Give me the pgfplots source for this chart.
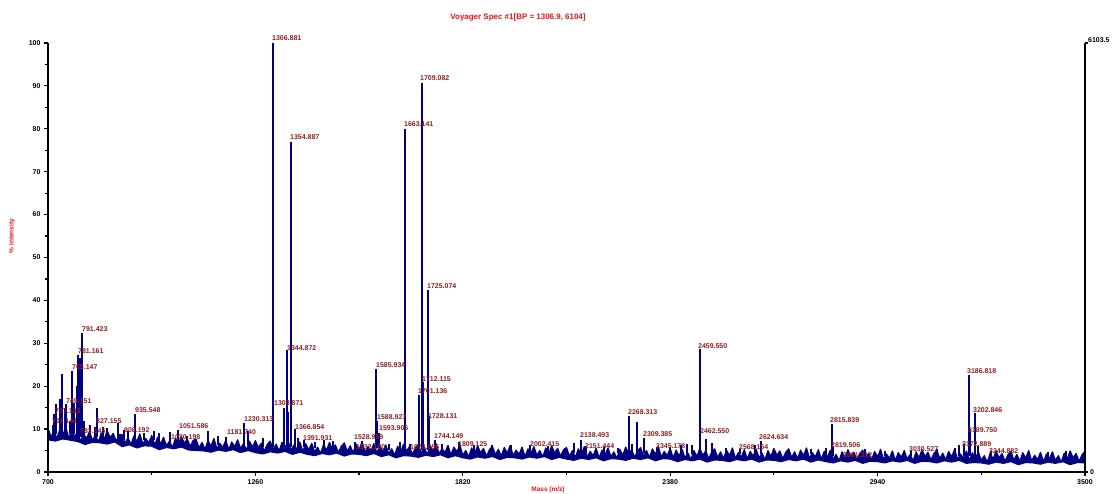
\documentclass[border=0pt]{standalone}
\usepackage{fontspec}
\setmainfont{Liberation Sans}
\usepackage{pgfplots}
\usepackage{pgfplotstable}
\pgfplotsset{compat=1.18}
\definecolor{navyline}{RGB}{0,0,128}
\definecolor{lblred}{RGB}{150,28,28}
\definecolor{ttlred}{RGB}{240,20,20}
\tikzset{lbl/.style={anchor=west, inner sep=0pt, text=lblred, font=\fontsize{7}{8}\selectfont\bfseries}}

\pgfplotstableread[row sep=\\]{
x y\\
700 10.2\\ 708 8.2\\ 716 9.5\\ 724 7.9\\ 732 9.9\\ 740 8.6\\ 748 10.4\\ 756 8.0\\ 764 9.3\\ 772 8.3\\
780 9.3\\ 788 7.1\\ 796 8.9\\ 804 7.8\\ 812 9.4\\ 820 7.4\\ 828 8.5\\ 836 7.0\\ 844 9.1\\ 852 7.7\\ 860 9.6\\ 868 8.0\\ 876 9.0\\ 884 7.2\\ 892 8.7\\
900 8.7\\ 908 6.7\\ 916 8.0\\ 924 6.4\\ 932 8.4\\ 940 7.1\\ 948 8.9\\ 956 6.5\\ 964 7.8\\ 972 6.8\\ 980 8.5\\ 988 6.3\\ 996 8.1\\
1004 6.5\\ 1012 8.1\\ 1020 6.1\\ 1028 7.2\\ 1036 5.7\\ 1044 7.8\\ 1052 6.4\\ 1060 8.3\\ 1068 6.7\\ 1076 7.7\\ 1084 5.9\\ 1092 7.4\\
1100 7.6\\ 1108 5.6\\ 1116 6.9\\ 1124 5.3\\ 1132 7.3\\ 1140 6.0\\ 1148 7.8\\ 1156 5.4\\ 1164 6.7\\ 1172 5.7\\ 1180 7.4\\ 1188 5.2\\ 1196 7.0\\ 1204 5.9\\ 1212 7.5\\ 1220 5.5\\ 1228 6.6\\ 1236 5.1\\ 1244 7.2\\ 1252 5.8\\
1260 7.3\\ 1268 5.7\\ 1276 6.7\\ 1284 4.9\\ 1292 6.4\\ 1300 7.2\\ 1308 5.2\\ 1316 6.5\\ 1324 4.9\\ 1332 6.9\\ 1340 5.6\\ 1348 7.4\\ 1356 5.0\\ 1364 6.3\\ 1372 5.3\\ 1380 7.0\\ 1388 4.8\\ 1396 6.6\\
1404 5.1\\ 1412 6.7\\ 1420 4.7\\ 1428 5.8\\ 1436 4.3\\ 1444 6.4\\ 1452 5.0\\ 1460 6.9\\ 1468 5.3\\ 1476 6.3\\ 1484 4.5\\ 1492 6.0\\ 1500 6.8\\ 1508 4.8\\ 1516 6.1\\ 1524 4.5\\ 1532 6.5\\ 1540 5.2\\ 1548 7.0\\ 1556 4.6\\ 1564 5.9\\ 1572 4.9\\ 1580 6.6\\ 1588 4.4\\ 1596 6.2\\
1604 4.7\\ 1612 6.3\\ 1620 4.3\\ 1628 5.4\\ 1636 3.9\\ 1644 6.0\\ 1652 4.6\\ 1660 6.5\\ 1668 4.9\\ 1676 5.9\\ 1684 4.1\\ 1692 5.6\\ 1700 6.4\\ 1708 4.4\\ 1716 5.7\\ 1724 4.1\\ 1732 6.1\\ 1740 4.8\\ 1748 6.6\\ 1756 4.2\\ 1764 5.5\\ 1772 4.5\\ 1780 6.2\\ 1788 4.0\\ 1796 5.8\\ 1804 4.7\\ 1812 6.3\\
1820 3.9\\ 1828 5.0\\ 1836 3.5\\ 1844 5.6\\ 1852 4.2\\ 1860 6.1\\ 1868 4.5\\ 1876 5.5\\ 1884 3.7\\ 1892 5.2\\ 1900 6.0\\ 1908 4.0\\ 1916 5.3\\ 1924 3.7\\ 1932 5.7\\ 1940 4.4\\ 1948 6.2\\ 1956 3.8\\ 1964 5.1\\ 1972 4.1\\ 1980 5.8\\ 1988 3.6\\ 1996 5.4\\
2004 4.3\\ 2012 5.9\\ 2020 3.9\\ 2028 5.0\\ 2036 3.5\\ 2044 5.6\\ 2052 4.2\\ 2060 6.1\\ 2068 4.5\\ 2076 5.5\\ 2084 3.7\\ 2092 5.2\\
2100 5.7\\ 2108 3.7\\ 2116 5.0\\ 2124 3.4\\ 2132 5.4\\ 2140 4.1\\ 2148 5.9\\ 2156 3.5\\ 2164 4.8\\ 2172 3.8\\ 2180 5.5\\ 2188 3.3\\ 2196 5.1\\ 2204 4.0\\ 2212 5.6\\ 2220 3.6\\ 2228 4.7\\ 2236 3.2\\ 2244 5.3\\ 2252 3.9\\ 2260 5.8\\ 2268 4.2\\ 2276 5.2\\ 2284 3.4\\ 2292 4.9\\
2300 5.7\\ 2308 3.7\\ 2316 5.0\\ 2324 3.4\\ 2332 5.4\\ 2340 4.1\\ 2348 5.9\\ 2356 3.5\\ 2364 4.8\\ 2372 3.8\\ 2380 5.5\\ 2388 3.3\\ 2396 5.1\\
2404 3.7\\ 2412 5.3\\ 2420 3.3\\ 2428 4.4\\ 2436 2.9\\ 2444 5.0\\ 2452 3.6\\ 2460 5.5\\ 2468 3.9\\ 2476 4.9\\ 2484 3.1\\ 2492 4.6\\ 2500 5.4\\ 2508 3.4\\ 2516 4.7\\ 2524 3.1\\ 2532 5.1\\ 2540 3.8\\ 2548 5.6\\ 2556 3.2\\ 2564 4.5\\ 2572 3.5\\ 2580 5.2\\ 2588 3.0\\ 2596 4.8\\
2604 3.7\\ 2612 5.3\\ 2620 3.3\\ 2628 4.4\\ 2636 2.9\\ 2644 5.0\\ 2652 3.6\\ 2660 5.5\\ 2668 3.9\\ 2676 4.9\\ 2684 3.1\\ 2692 4.6\\ 2700 5.4\\ 2708 3.4\\ 2716 4.7\\ 2724 3.1\\ 2732 5.1\\ 2740 3.8\\ 2748 5.6\\ 2756 3.2\\ 2764 4.5\\ 2772 3.5\\ 2780 5.2\\ 2788 3.0\\ 2796 4.8\\
2804 3.4\\ 2812 5.0\\ 2820 3.0\\ 2828 4.1\\ 2836 2.6\\ 2844 4.7\\ 2852 3.3\\ 2860 5.2\\ 2868 3.6\\ 2876 4.6\\ 2884 2.8\\ 2892 4.3\\ 2900 5.1\\ 2908 3.1\\ 2916 4.4\\ 2924 2.8\\ 2932 4.8\\ 2940 3.5\\ 2948 5.3\\ 2956 2.9\\ 2964 4.2\\ 2972 3.2\\ 2980 4.9\\ 2988 2.7\\ 2996 4.5\\
3004 3.4\\ 3012 5.0\\ 3020 3.0\\ 3028 4.1\\ 3036 2.6\\ 3044 4.7\\ 3052 3.3\\ 3060 5.2\\ 3068 3.6\\ 3076 4.6\\ 3084 2.8\\ 3092 4.3\\ 3100 5.1\\ 3108 3.1\\ 3116 4.4\\ 3124 2.8\\ 3132 4.8\\ 3140 3.5\\ 3148 5.3\\ 3156 2.9\\ 3164 4.2\\ 3172 3.2\\ 3180 4.9\\ 3188 2.7\\ 3196 4.5\\
3204 3.1\\ 3212 4.7\\ 3220 2.7\\ 3228 3.8\\ 3236 2.3\\ 3244 4.4\\ 3252 3.0\\ 3260 4.9\\ 3268 3.3\\ 3276 4.3\\ 3284 2.5\\ 3292 4.0\\ 3300 4.8\\ 3308 2.8\\ 3316 4.1\\ 3324 2.5\\ 3332 4.5\\ 3340 3.2\\ 3348 5.0\\ 3356 2.6\\ 3364 3.9\\ 3372 2.9\\ 3380 4.6\\ 3388 2.4\\ 3396 4.2\\
3404 3.1\\ 3412 4.7\\ 3420 2.7\\ 3428 3.8\\ 3436 2.3\\ 3444 4.4\\ 3452 3.0\\ 3460 4.9\\ 3468 3.3\\ 3476 4.3\\ 3484 2.5\\ 3492 4.0\\ 3500 4.8\\
}\noisedata

\pgfplotstableread[row sep=\\]{
x y\\
700 7.5\\ 720 7.2\\ 740 7.7\\ 760 7.4\\ 780 7.1\\ 800 6.4\\ 820 6.9\\ 840 6.8\\ 860 6.5\\ 880 7.0\\
900 5.9\\ 920 6.3\\ 940 5.6\\ 960 6.1\\ 980 6.0\\ 1000 5.2\\ 1020 5.7\\ 1040 5.4\\ 1060 5.8\\ 1080 5.1\\
1100 5.0\\ 1120 4.9\\ 1140 4.6\\ 1160 5.1\\ 1180 4.8\\ 1200 5.2\\ 1220 4.5\\ 1240 5.0\\ 1260 4.5\\ 1280 4.2\\
1300 4.7\\ 1320 4.4\\ 1340 4.8\\ 1360 4.1\\ 1380 4.6\\ 1400 4.1\\ 1420 3.8\\ 1440 4.3\\ 1460 4.0\\ 1480 4.4\\
1500 3.7\\ 1520 4.2\\ 1540 4.1\\ 1560 3.8\\ 1580 4.3\\ 1600 3.6\\ 1620 4.0\\ 1640 3.3\\ 1660 3.8\\ 1680 3.7\\
1700 3.4\\ 1720 3.9\\ 1740 3.6\\ 1760 4.0\\ 1780 3.3\\ 1800 3.8\\ 1820 3.3\\ 1840 3.0\\ 1860 3.5\\ 1880 3.2\\
1900 3.6\\ 1920 2.9\\ 1940 3.4\\ 1960 3.3\\ 1980 3.0\\ 2000 3.5\\ 2020 3.2\\ 2040 3.6\\ 2060 2.9\\ 2080 3.4\\
2100 3.0\\ 2120 2.7\\ 2140 3.2\\ 2160 2.9\\ 2180 3.3\\ 2200 2.6\\ 2220 3.1\\ 2240 3.0\\ 2260 2.7\\ 2280 3.2\\
2300 2.9\\ 2320 3.3\\ 2340 2.6\\ 2360 3.1\\ 2380 3.0\\ 2400 2.4\\ 2420 2.9\\ 2440 2.6\\ 2460 3.0\\ 2480 2.3\\
2500 2.8\\ 2520 2.7\\ 2540 2.4\\ 2560 2.9\\ 2580 2.6\\ 2600 3.0\\ 2620 2.3\\ 2640 2.8\\ 2660 2.7\\ 2680 2.4\\
2700 2.9\\ 2720 2.6\\ 2740 3.0\\ 2760 2.3\\ 2780 2.8\\ 2800 2.4\\ 2820 2.1\\ 2840 2.6\\ 2860 2.3\\ 2880 2.7\\
2900 2.0\\ 2920 2.5\\ 2940 2.4\\ 2960 2.1\\ 2980 2.6\\ 3000 2.3\\ 3020 2.7\\ 3040 2.0\\ 3060 2.5\\ 3080 2.4\\
3100 2.1\\ 3120 2.6\\ 3140 2.3\\ 3160 2.7\\ 3180 2.0\\ 3200 2.2\\ 3220 2.1\\ 3240 1.8\\ 3260 2.3\\ 3280 2.0\\
3300 2.4\\ 3320 1.7\\ 3340 2.2\\ 3360 2.1\\ 3380 1.8\\ 3400 2.3\\ 3420 2.0\\ 3440 2.4\\ 3460 1.7\\ 3480 2.2\\
3500 2.1\\
}\lowdata

\pgfplotstableread[row sep=\\]{
x y\\
712.6 8.8\\ 712.6 11.0\\ 712.6 nan\\
717.1 8.8\\ 717.1 13.5\\ 717.1 nan\\
721.6 8.8\\ 721.6 15.8\\ 721.6 nan\\
732.4 8.8\\ 732.4 17.0\\ 732.4 nan\\
737.0 8.8\\ 737.0 22.8\\ 737.0 nan\\
745.9 8.8\\ 745.9 15.0\\ 745.9 nan\\
749.2 8.8\\ 749.2 15.8\\ 749.2 nan\\
759.4 8.8\\ 759.4 12.0\\ 759.4 nan\\
765.1 8.8\\ 765.1 23.6\\ 765.1 nan\\
771.0 8.8\\ 771.0 16.0\\ 771.0 nan\\
777.4 8.8\\ 777.4 20.0\\ 777.4 nan\\
781.2 8.2\\ 781.2 27.3\\ 781.2 nan\\
786.4 8.2\\ 786.4 26.5\\ 786.4 nan\\
791.4 8.2\\ 791.4 32.4\\ 791.4 nan\\
797.2 8.2\\ 797.2 12.0\\ 797.2 nan\\
813 8.2\\ 813 11.0\\ 813 nan\\
827.2 8.2\\ 827.2 10.5\\ 827.2 nan\\
833 8.2\\ 833 15.0\\ 833 nan\\
848.6 8.2\\ 848.6 10.6\\ 848.6 nan\\
860 8.2\\ 860 10.2\\ 860 nan\\
889.9 8.2\\ 889.9 11.4\\ 889.9 nan\\
905.2 7.4\\ 905.2 9.7\\ 905.2 nan\\
915 7.4\\ 915 9.5\\ 915 nan\\
935.5 7.4\\ 935.5 13.5\\ 935.5 nan\\
960 7.4\\ 960 9.0\\ 960 nan\\
985 7.4\\ 985 9.5\\ 985 nan\\
1000 6.9\\ 1000 9.0\\ 1000 nan\\
1030.2 6.9\\ 1030.2 9.4\\ 1030.2 nan\\
1051.6 6.9\\ 1051.6 9.8\\ 1051.6 nan\\
1075 6.9\\ 1075 8.5\\ 1075 nan\\
1133 6.3\\ 1133 9.5\\ 1133 nan\\
1160 6.3\\ 1160 8.3\\ 1160 nan\\
1181.7 6.3\\ 1181.7 8.2\\ 1181.7 nan\\
1230.3 6.3\\ 1230.3 11.4\\ 1230.3 nan\\
1240 6.3\\ 1240 9.5\\ 1240 nan\\
1280 5.9\\ 1280 8.0\\ 1280 nan\\
1306.9 5.9\\ 1306.9 100\\ 1306.9 nan\\
1308.4 5.9\\ 1308.4 34\\ 1308.4 nan\\
1337 5.9\\ 1337 15\\ 1337 nan\\
1344.9 5.9\\ 1344.9 28.5\\ 1344.9 nan\\
1348 5.9\\ 1348 14\\ 1348 nan\\
1354.9 5.9\\ 1354.9 77\\ 1354.9 nan\\
1356.4 5.9\\ 1356.4 55\\ 1356.4 nan\\
1366.9 5.9\\ 1366.9 10\\ 1366.9 nan\\
1374 5.9\\ 1374 8\\ 1374 nan\\
1391.9 5.9\\ 1391.9 7.5\\ 1391.9 nan\\
1420 5.5\\ 1420 7.0\\ 1420 nan\\
1445 5.5\\ 1445 7.5\\ 1445 nan\\
1470 5.5\\ 1470 7.2\\ 1470 nan\\
1500 5.5\\ 1500 6.8\\ 1500 nan\\
1529.0 5.5\\ 1529.0 7.0\\ 1529.0 nan\\
1532.2 5.5\\ 1532.2 6.2\\ 1532.2 nan\\
1548 5.5\\ 1548 7.2\\ 1548 nan\\
1585.9 5.5\\ 1585.9 24\\ 1585.9 nan\\
1588.9 5.5\\ 1588.9 12\\ 1588.9 nan\\
1593.9 5.5\\ 1593.9 9\\ 1593.9 nan\\
1620 5.1\\ 1620 6.5\\ 1620 nan\\
1650 5.1\\ 1650 7\\ 1650 nan\\
1663.1 5.1\\ 1663.1 80\\ 1663.1 nan\\
1678.1 5.1\\ 1678.1 6.5\\ 1678.1 nan\\
1701.1 5.1\\ 1701.1 18\\ 1701.1 nan\\
1709.1 5.1\\ 1709.1 90.7\\ 1709.1 nan\\
1710.6 5.1\\ 1710.6 80\\ 1710.6 nan\\
1712.1 5.1\\ 1712.1 21\\ 1712.1 nan\\
1725.1 5.1\\ 1725.1 42.4\\ 1725.1 nan\\
1726.5 5.1\\ 1726.5 40.5\\ 1726.5 nan\\
1728.1 5.1\\ 1728.1 13\\ 1728.1 nan\\
1744.1 5.1\\ 1744.1 7.5\\ 1744.1 nan\\
1765 5.1\\ 1765 6.5\\ 1765 nan\\
1809.1 5.1\\ 1809.1 7\\ 1809.1 nan\\
1850 4.7\\ 1850 6.2\\ 1850 nan\\
1900 4.7\\ 1900 6.2\\ 1900 nan\\
1950 4.7\\ 1950 6.3\\ 1950 nan\\
2002.4 4.7\\ 2002.4 6.3\\ 2002.4 nan\\
2050 4.7\\ 2050 6.0\\ 2050 nan\\
2120 4.4\\ 2120 6.8\\ 2120 nan\\
2138.5 4.4\\ 2138.5 7.5\\ 2138.5 nan\\
2151.4 4.4\\ 2151.4 6.0\\ 2151.4 nan\\
2200 4.4\\ 2200 5.8\\ 2200 nan\\
2240 4.4\\ 2240 5.7\\ 2240 nan\\
2268.3 4.4\\ 2268.3 13\\ 2268.3 nan\\
2276 4.4\\ 2276 6.5\\ 2276 nan\\
2290 4.4\\ 2290 11.7\\ 2290 nan\\
2309.4 4.4\\ 2309.4 7.9\\ 2309.4 nan\\
2345.2 4.4\\ 2345.2 5.8\\ 2345.2 nan\\
2380 4.4\\ 2380 5.8\\ 2380 nan\\
2410 4.1\\ 2410 6.3\\ 2410 nan\\
2425 4.1\\ 2425 6.5\\ 2425 nan\\
2440 4.1\\ 2440 6.2\\ 2440 nan\\
2459.6 4.1\\ 2459.6 28.7\\ 2459.6 nan\\
2477 4.1\\ 2477 7.7\\ 2477 nan\\
2492 4.1\\ 2492 6.8\\ 2492 nan\\
2530 4.1\\ 2530 5.6\\ 2530 nan\\
2568.2 4.1\\ 2568.2 5.3\\ 2568.2 nan\\
2609 4.1\\ 2609 6.2\\ 2609 nan\\
2624.6 4.1\\ 2624.6 7.2\\ 2624.6 nan\\
2700 4.1\\ 2700 5.2\\ 2700 nan\\
2760 4.1\\ 2760 5.4\\ 2760 nan\\
2800 3.8\\ 2800 5.7\\ 2800 nan\\
2815.8 3.8\\ 2815.8 11.2\\ 2815.8 nan\\
2819.5 3.8\\ 2819.5 5.8\\ 2819.5 nan\\
2861.3 3.8\\ 2861.3 5.0\\ 2861.3 nan\\
2906 3.8\\ 2906 5.3\\ 2906 nan\\
2960 3.8\\ 2960 5.0\\ 2960 nan\\
3030.5 3.8\\ 3030.5 5.2\\ 3030.5 nan\\
3100 3.8\\ 3100 5.3\\ 3100 nan\\
3150 3.8\\ 3150 5.6\\ 3150 nan\\
3160 3.8\\ 3160 6.2\\ 3160 nan\\
3172.9 3.8\\ 3172.9 6.5\\ 3172.9 nan\\
3186.8 3.8\\ 3186.8 22.6\\ 3186.8 nan\\
3189.8 3.8\\ 3189.8 10\\ 3189.8 nan\\
3202.8 3.5\\ 3202.8 13.7\\ 3202.8 nan\\
3210 3.5\\ 3210 6.0\\ 3210 nan\\
3244.9 3.5\\ 3244.9 4.8\\ 3244.9 nan\\
3300 3.5\\ 3300 4.8\\ 3300 nan\\
3400 3.5\\ 3400 4.7\\ 3400 nan\\
3450 3.5\\ 3450 4.8\\ 3450 nan\\
}\peakdata

\begin{document}
\begin{tikzpicture}
\useasboundingbox (0,0) rectangle (1113bp,494bp);
\begin{axis}[
  at={(48bp,22bp)}, anchor=south west,
  scale only axis, width=1037bp, height=429bp,
  xmin=700, xmax=3500, ymin=0, ymax=100,
  axis x line*=bottom, axis y line*=left,
  axis line style={line width=1.4bp, black},
  axis on top,
  xtick={700,1260,1820,2380,2940,3500},
  minor xtick={980,1540,2100,2660,3220},
  ytick={0,10,...,100}, minor ytick={5,15,...,95},
  tick align=outside, major tick length=4bp, minor tick length=3bp,
  tick style={line width=1.2bp, black},
  ticklabel style={font=\fontsize{7}{8}\selectfont\bfseries},
  /pgf/number format/assume math mode=true,
  /pgf/number format/set thousands separator={},
]
\addplot[fill=navyline, draw=none, mark=none] table[x=x,y=y] {\noisedata} \closedcycle;
\addplot[fill=white, draw=none, mark=none] table[x=x,y=y] {\lowdata} \closedcycle;
\addplot[navyline, line width=1.2bp, mark=none, line join=round] table[x=x,y=y] {\noisedata};
\addplot[navyline, line width=1.0bp, mark=none] table[x=x,y=y] {\lowdata};
\addplot[navyline, line width=2bp, mark=none, unbounded coords=jump] table[x=x,y=y] {\peakdata};
\end{axis}
\begin{axis}[
  at={(48bp,22bp)}, anchor=south west,
  scale only axis, width=1037bp, height=429bp,
  xmin=700, xmax=3500, ymin=0, ymax=100,
  hide axis, clip=false,
]
\draw[line width=1.4bp] (rel axis cs:1,0) -- (rel axis cs:1,1);
\draw[line width=1.2bp] (rel axis cs:1,1) -- ([xshift=3bp]rel axis cs:1,1);
\draw[line width=1.2bp] (rel axis cs:1,0) -- ([xshift=3bp]rel axis cs:1,0);
\node[anchor=west, inner sep=0pt, font=\fontsize{7}{8}\selectfont\bfseries, xshift=3bp, yshift=3bp] at (rel axis cs:1,1) {6103.5};
\node[anchor=west, inner sep=0pt, font=\fontsize{7}{8}\selectfont\bfseries, xshift=5bp] at (rel axis cs:1,0) {0};

\node[lbl] at (axis cs:1304.8,101.2) {1306.881};
\node[lbl] at (axis cs:1353.4,78.1) {1354.887};
\node[lbl] at (axis cs:1704.4,91.8) {1709.082};
\node[lbl] at (axis cs:1661.2,81.1) {1663.141};
\node[lbl] at (axis cs:1723.3,43.4) {1725.074};
\node[lbl] at (axis cs:791.8,33.3) {791.423};
\node[lbl] at (axis cs:781,28.2) {781.161};
\node[lbl] at (axis cs:764.8,24.5) {765.147};
\node[lbl] at (axis cs:748.6,16.5) {749.151};
\node[lbl] at (axis cs:718.9,14.2) {717.133};
\node[lbl] at (axis cs:710.8,11.9) {711.144};
\node[lbl] at (axis cs:786.4,9.6) {783.145};
\node[lbl] at (axis cs:829.6,11.9) {827.155};
\node[lbl] at (axis cs:905.2,9.8) {908.192};
\node[lbl] at (axis cs:934.9,14.5) {935.548};
\node[lbl] at (axis cs:1053.7,10.7) {1051.586};
\node[lbl] at (axis cs:1032.1,8.2) {1030.198};
\node[lbl] at (axis cs:1183.3,9.3) {1181.740};
\node[lbl] at (axis cs:1229.2,12.4) {1230.313};
\node[lbl] at (axis cs:1310.2,16.1) {1308.871};
\node[lbl] at (axis cs:1345.3,28.9) {1344.872};
\node[lbl] at (axis cs:1366.9,10.5) {1366.854};
\node[lbl] at (axis cs:1388.5,7.9) {1391.931};
\node[lbl] at (axis cs:1585.6,24.9) {1585.934};
\node[lbl] at (axis cs:1588.3,12.8) {1588.927};
\node[lbl] at (axis cs:1593.7,10.3) {1593.906};
\node[lbl] at (axis cs:1526.2,8.2) {1528.959};
\node[lbl] at (axis cs:1531.6,5.8) {1532.150};
\node[lbl] at (axis cs:1709.8,21.7) {1712.115};
\node[lbl] at (axis cs:1699,18.9) {1701.136};
\node[lbl] at (axis cs:1726,13.1) {1728.131};
\node[lbl] at (axis cs:1677.4,5.8) {1678.096};
\node[lbl] at (axis cs:1742.2,8.4) {1744.149};
\node[lbl] at (axis cs:1807,6.5) {1809.125};
\node[lbl] at (axis cs:2001.4,6.5) {2002.415};
\node[lbl] at (axis cs:2136.4,8.6) {2138.493};
\node[lbl] at (axis cs:2149.9,6.1) {2151.444};
\node[lbl] at (axis cs:2266,14.0) {2268.313};
\node[lbl] at (axis cs:2306.5,8.9) {2309.385};
\node[lbl] at (axis cs:2341.6,6.1) {2345.178};
\node[lbl] at (axis cs:2455,29.4) {2459.550};
\node[lbl] at (axis cs:2460.4,9.6) {2462.550};
\node[lbl] at (axis cs:2565.7,5.8) {2568.154};
\node[lbl] at (axis cs:2619.7,8.2) {2624.634};
\node[lbl] at (axis cs:2811.4,12.1) {2815.839};
\node[lbl] at (axis cs:2814.1,6.3) {2819.506};
\node[lbl] at (axis cs:2846.5,4.0) {2861.312};
\node[lbl] at (axis cs:3024.7,5.4) {3030.527};
\node[lbl] at (axis cs:3167.8,6.5) {3172.889};
\node[lbl] at (axis cs:3181.3,23.5) {3186.818};
\node[lbl] at (axis cs:3197.5,14.5) {3202.846};
\node[lbl] at (axis cs:3184,9.8) {3189.750};
\node[lbl] at (axis cs:3240.7,4.9) {3244.882};
\end{axis}
\node[text=ttlred, font=\fontsize{8}{9}\selectfont\bfseries] at (518bp,477bp) {Voyager Spec \#1[BP = 1306.9, 6104]};
\node[text=ttlred, font=\fontsize{6.5}{8}\selectfont\bfseries] at (548bp,4bp) {Mass (m/z)};
\node[text=ttlred, font=\fontsize{6.5}{8}\selectfont\bfseries, rotate=90] at (12bp,258bp) {\% Intensity};
\end{tikzpicture}
\end{document}
